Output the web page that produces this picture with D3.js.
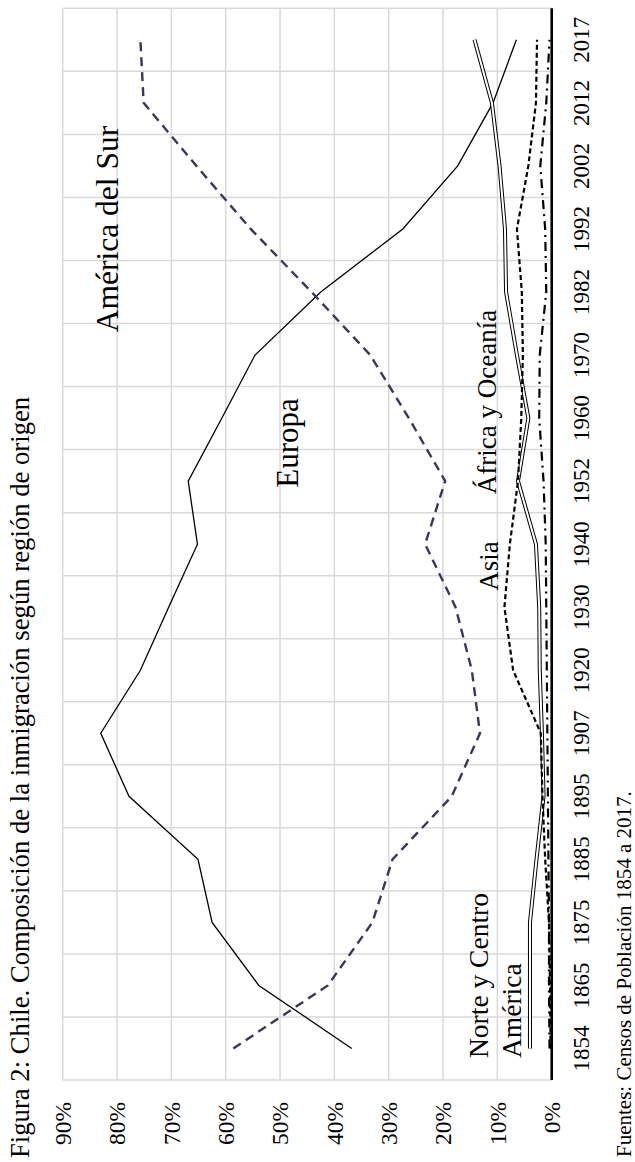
<!DOCTYPE html>
<html><head><meta charset="utf-8">
<script src="https://cdn.jsdelivr.net/npm/d3@7"></script>
<style>
html,body{margin:0;padding:0;background:#fff;}
svg{display:block;}
text{font-family:"Liberation Serif","Times New Roman",serif;fill:#000;}
</style></head>
<body>
<script>
const years = ["1854","1865","1875","1885","1895","1907","1920","1930","1940","1952","1960","1970","1982","1992","2002","2012","2017"];
const europa     = [36.8, 53.9, 62.5, 65.1, 77.8, 83.0, 75.7, 70.5, 65.2, 66.9, 60.7, 54.6, 42.5, 27.4, 17.3, 10.8, 6.5];
const americaSur = [58.6, 41.2, 33.0, 29.3, 18.4, 13.2, 14.7, 17.7, 23.3, 19.6, 26.3, 33.4, 44.2, 55.4, 65.4, 75.1, 75.7];
const asia       = [0.2, 0.3, 0.5, 1.2, 1.7, 2.0, 7.1, 8.7, 7.7, 6.2, 5.6, 5.3, 5.5, 6.4, 4.3, 2.9, 2.7];
const norteCentro= [4.0, 4.0, 4.0, 2.8, 1.5, 1.8, 2.2, 2.3, 2.9, 6.2, 4.3, 6.4, 8.4, 8.6, 9.6, 11.0, 14.2];
const africaOce  = [0.4, 0.5, 0.5, 0.6, 0.7, 0.8, 0.9, 1.0, 1.1, 1.5, 2.3, 2.2, 1.0, 1.2, 2.1, 1.0, 0.4];
const pctTicks = [0,10,20,30,40,50,60,70,80,90];
const titleText = "Figura 2: Chile. Composición de la inmigración según región de origen";
const sourceText = "Fuentes: Censos de Población 1854 a 2017.";

const SW = 635, SH = 1162;
const svg = d3.select("body").append("svg").attr("width", SW).attr("height", SH);
// whole chart is drawn landscape then rotated 90° counter-clockwise
const g = svg.append("g").attr("transform", `translate(0,${SH}) rotate(-90)`);

const x = d3.scaleBand().domain(years).range([82, 1153.7]).paddingInner(0).paddingOuter(0);
const y = d3.scaleLinear().domain([0, 90]).range([551.7, 62.7]);

// grid
const grid = g.append("g");
grid.selectAll("line.h").data(pctTicks.filter(d => d > 0)).join("line")
  .attr("x1", x.range()[0]).attr("x2", x.range()[1])
  .attr("y1", d => y(d)).attr("y2", d => y(d))
  .attr("stroke", "#d9d9d9").attr("stroke-width", 1.5);
const bounds = years.map(d => x(d)).concat([x.range()[1]]);
grid.selectAll("line.v").data(bounds).join("line")
  .attr("x1", d => d).attr("x2", d => d)
  .attr("y1", y(90)).attr("y2", y(0))
  .attr("stroke", "#d9d9d9").attr("stroke-width", 1.5);

// percent axis labels
g.append("g").selectAll("text").data(pctTicks).join("text")
  .attr("x", 60).attr("y", d => y(d)).attr("dy", "0.35em")
  .attr("text-anchor", "end").attr("font-size", 23.5)
  .text(d => d + "%");

// year labels
g.append("g").selectAll("text").data(years).join("text")
  .attr("x", d => x(d) + x.bandwidth() / 2).attr("y", 589)
  .attr("text-anchor", "middle").attr("font-size", 23)
  .text(d => d);

const line = d3.line().x((d, i) => x(years[i]) + x.bandwidth() / 2).y(d => y(d));

// series
g.append("path").datum(europa).attr("d", line)
  .attr("fill", "none").attr("stroke", "#000").attr("stroke-width", 1.3);
g.append("path").datum(americaSur).attr("d", line)
  .attr("fill", "none").attr("stroke", "#3f3456").attr("stroke-width", 2.4)
  .attr("stroke-dasharray", "9,6");
g.append("path").datum(norteCentro).attr("d", line)
  .attr("fill", "none").attr("stroke", "#000").attr("stroke-width", 4);
g.append("path").datum(norteCentro).attr("d", line)
  .attr("fill", "none").attr("stroke", "#fff").attr("stroke-width", 2);
g.append("path").datum(asia).attr("d", line)
  .attr("fill", "none").attr("stroke", "#000").attr("stroke-width", 2.2)
  .attr("stroke-dasharray", "5,3");
g.append("path").datum(africaOce).attr("d", line)
  .attr("fill", "none").attr("stroke", "#000").attr("stroke-width", 2.2)
  .attr("stroke-dasharray", "9,5,2,5");

// zero axis line
g.append("line").attr("x1", x.range()[0]).attr("x2", x.range()[1])
  .attr("y1", y(0)).attr("y2", y(0)).attr("stroke", "#000").attr("stroke-width", 2.6);

// series labels
const lab = g.append("g");
lab.append("text").attr("x", 933).attr("y", 118).attr("text-anchor", "middle").attr("font-size", 31.5).text("América del Sur");
lab.append("text").attr("x", 719).attr("y", 298).attr("text-anchor", "middle").attr("font-size", 31).text("Europa");
lab.append("text").attr("x", 760).attr("y", 496).attr("text-anchor", "middle").attr("font-size", 27).text("África y Oceanía");
lab.append("text").attr("x", 596).attr("y", 498).attr("text-anchor", "middle").attr("font-size", 27).text("Asia");
lab.append("text").attr("x", 104).attr("y", 488).attr("font-size", 27.5).text("Norte y Centro");
lab.append("text").attr("x", 104).attr("y", 521).attr("font-size", 27.5).text("América");

// title and source
g.append("text").attr("x", 4).attr("y", 29).attr("font-size", 26.7).text(titleText);
g.append("text").attr("x", 5).attr("y", 631).attr("font-size", 21).text(sourceText);
</script>
</body></html>
